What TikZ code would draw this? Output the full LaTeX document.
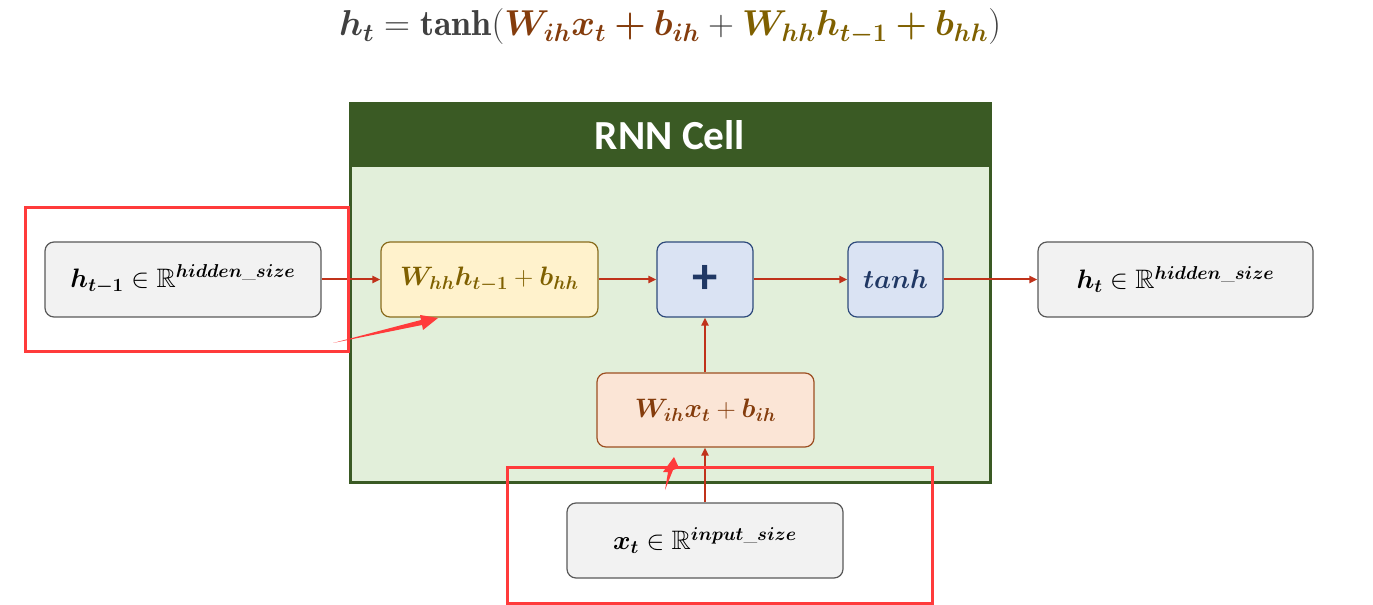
\RequirePackage{fix-cm}
\documentclass[tikz,border=0pt]{standalone}
\usepackage{amsmath,amssymb,bm}
\usepackage{fontspec}
\newfontfamily\carlito{Carlito}
\usetikzlibrary{arrows.meta}
\def\px{0.75pt}
\definecolor{frameg}{HTML}{3A5A24}
\definecolor{cellg}{HTML}{E2EFDA}
\definecolor{grayfill}{HTML}{F2F2F2}
\definecolor{grayline}{HTML}{595959}
\definecolor{yelfill}{HTML}{FFF2CC}
\definecolor{yelline}{HTML}{8A6D1E}
\definecolor{textgold}{HTML}{7F6000}
\definecolor{orafill}{HTML}{FBE5D6}
\definecolor{oraline}{HTML}{9C4F22}
\definecolor{textbrown}{HTML}{843C0C}
\definecolor{bluefill}{HTML}{DAE3F3}
\definecolor{blueline}{HTML}{2F4B7C}
\definecolor{textnavy}{HTML}{203864}
\definecolor{arrred}{HTML}{C0321A}
\definecolor{hlred}{HTML}{FF3B3B}
\definecolor{eqgray}{HTML}{404040}
\tikzset{
  box/.style={rectangle, rounded corners=9*\px, inner sep=0pt, line width=1.2*\px,
    minimum height=75*\px, font=\fontsize{20}{24}\selectfont},
  graybox/.style={box, fill=grayfill, draw=grayline, minimum width=276*\px},
  yelbox/.style={box, fill=yelfill, draw=yelline, text=textgold, minimum width=217*\px},
  orabox/.style={box, fill=orafill, draw=oraline, text=textbrown, minimum width=217*\px},
  bluebox/.style={box, fill=bluefill, draw=blueline, text=textnavy, minimum width=96*\px},
  arr/.style={draw=arrred, line width=2*\px, -{Triangle[length=8*\px,width=7*\px]}},
  hl/.style={draw=hlred, line width=3*\px},
  pointer/.style={fill=hlred, draw=none}
}
\begin{document}
\begin{tikzpicture}[x=0.75pt, y=-0.75pt]
\useasboundingbox (0,0) rectangle (1373,605);
% equation
\node[font=\fontsize{27}{32}\selectfont, text=eqgray] (eq) at (670,27)
  {$\bm{h_t} = \mathbf{tanh}(\textcolor{textbrown}{\bm{W_{ih}x_t + b_{ih}}} + \textcolor{textgold}{\bm{W_{hh}h_{t-1} + b_{hh}}})$};
% cell
\draw[fill=cellg, draw=frameg, line width=3*\px] (350,104) rectangle (990,482);
\fill[frameg] (350,104) rectangle (990,167);
\node[text=white, font=\carlito\bfseries\fontsize{31}{36}\selectfont] (title) at (670,135) {RNN Cell};
% boxes
\node[graybox] (hprev) at (183,279.5) {$\bm{h_{t-1}} \in \mathbb{R}^{\bm{hidden\_size}}$};
\node[yelbox] (whh) at (489.5,279.5) {$\bm{W_{hh}h_{t-1}} + \bm{b_{hh}}$};
\node[bluebox] (plus) at (705,279.5) {\carlito\bfseries\fontsize{38}{38}\selectfont +};
\node[bluebox, minimum width=95*\px] (tanh) at (895.5,279.5) {$\bm{tanh}$};
\node[graybox, minimum width=275*\px] (hcur) at (1175.5,279.5) {$\bm{h_{t}} \in \mathbb{R}^{\bm{hidden\_size}}$};
\node[orabox, minimum height=74*\px] (wih) at (705.5,410) {$\bm{W_{ih}x_t} + \bm{b_{ih}}$};
\node[graybox] (xt) at (705,540.5) {$\bm{x_{t}} \in \mathbb{R}^{\bm{input\_size}}$};
% arrows
\draw[arr] (hprev.east) -- (whh.west);
\draw[arr] (whh.east) -- (plus.west);
\draw[arr] (plus.east) -- (tanh.west);
\draw[arr] (tanh.east) -- (hcur.west);
\draw[arr] (wih.north -| plus.south) -- (plus.south);
\draw[arr] (xt.north) -- (wih.south -| xt.north);
% highlights
\draw[hl] (25,208) rectangle (348,352);
\draw[hl] (507,467) rectangle (932,603);
\fill[pointer] (333,343) -- (421,320) -- (420,315) -- (438,318) -- (423,330) -- (422,325) -- cycle;
\fill[pointer] (665,490) -- (668,472) -- (663,472) -- (674,457) -- (679,468) -- (673,470) -- cycle;
\end{tikzpicture}
\end{document}
